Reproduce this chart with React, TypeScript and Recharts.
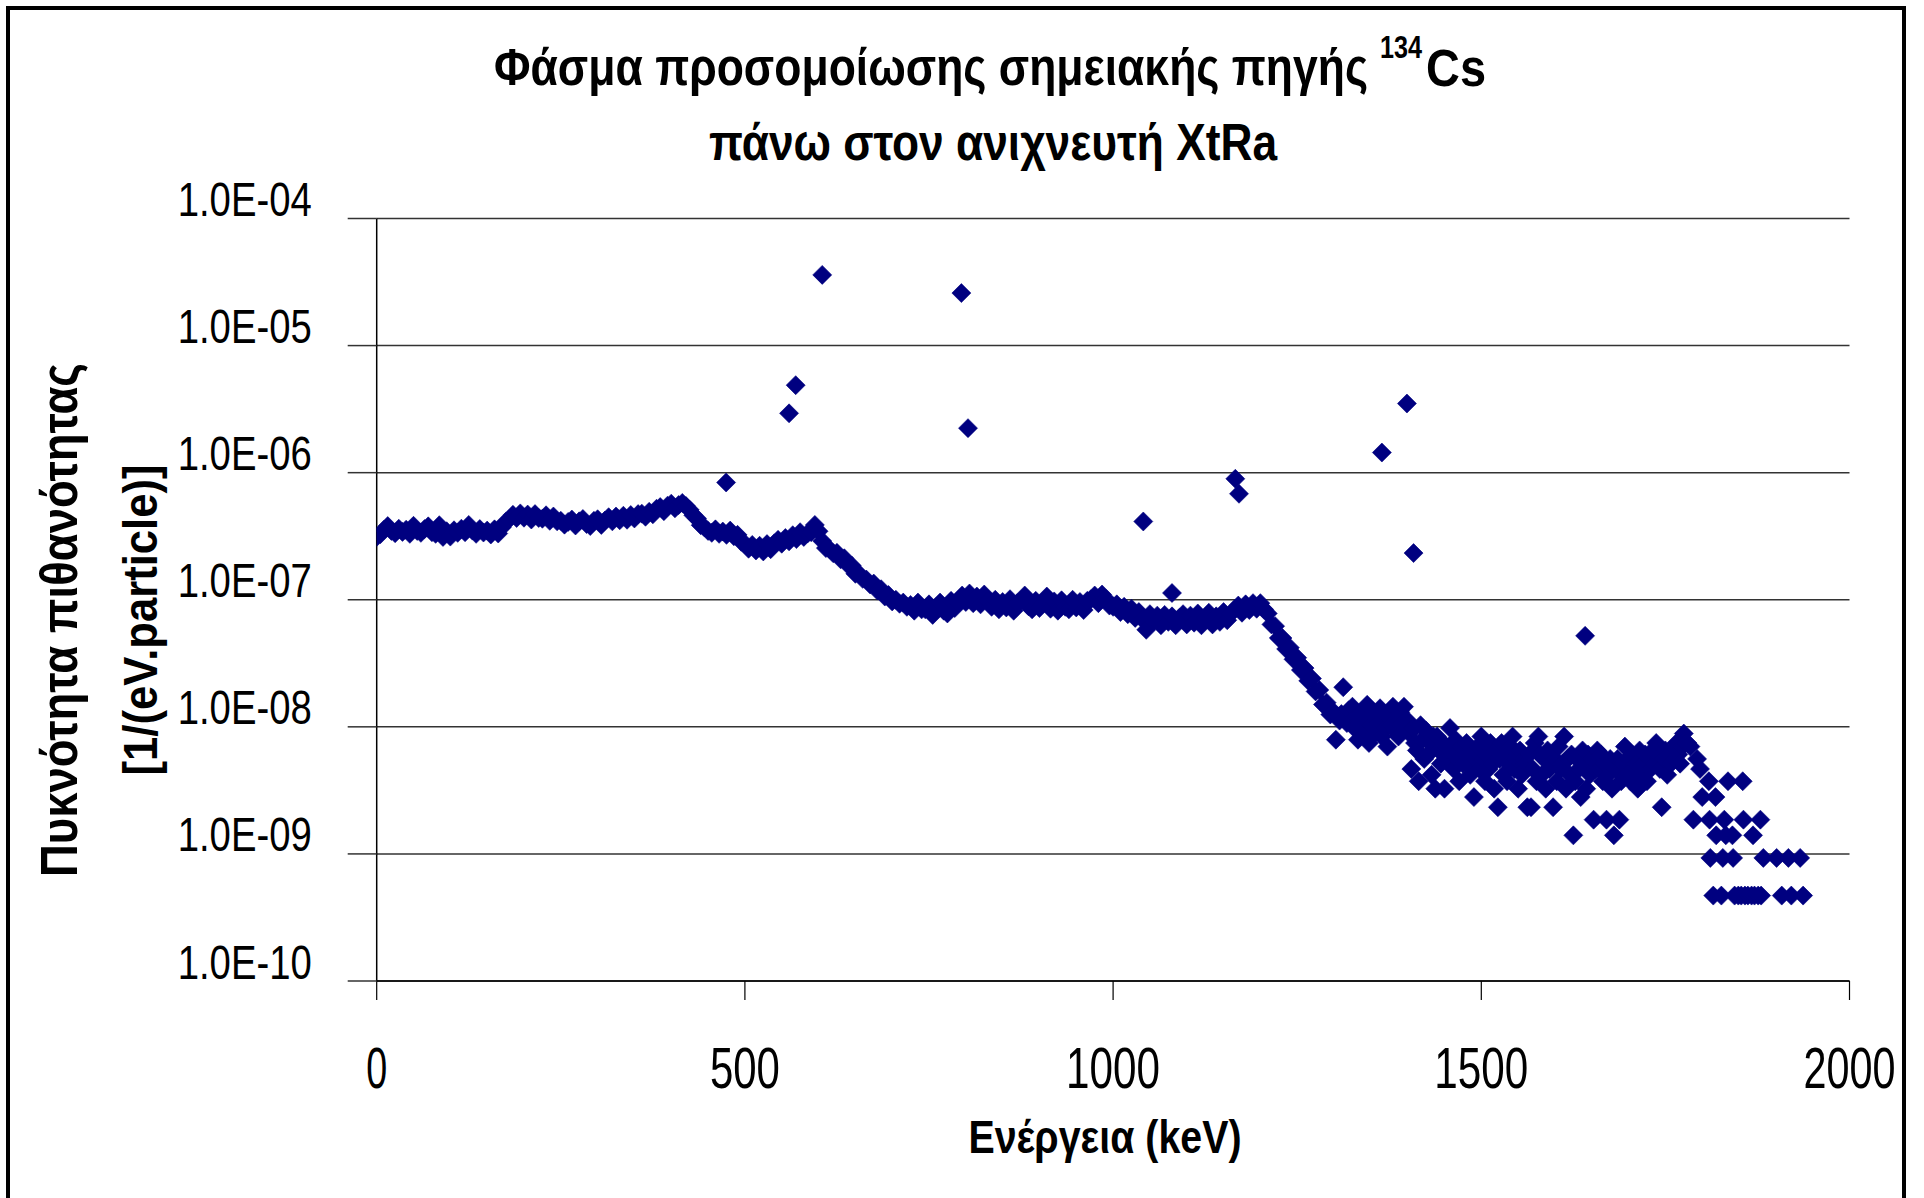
import React from 'react';
import { ScatterChart, Scatter, XAxis, YAxis, CartesianGrid } from 'recharts';

// ---- Axes -------------------------------------------------------------
const energyTicks = [0, 500, 1000, 1500, 2000];
const energyTickWidths = [21, 70, 94, 94, 92];
const densityTicks = [1e-10, 1e-9, 1e-8, 1e-7, 1e-6, 1e-5, 1e-4];
const densityTickLabels = ['1.0E-10', '1.0E-09', '1.0E-08', '1.0E-07', '1.0E-06', '1.0E-05', '1.0E-04'];

// ---- Spectrum ---------------------------------------------------------
// All densities are given in units of 1e-9 / (eV·particle).
const UNIT = 1e-9;

// Continuum, 5 keV channels
const CONT_STEP = 5;
const cont0to245 = [
  312, 328, 356, 380, 348, 334, 362, 342, 356, 330,
  382, 348, 336, 360, 378, 340, 330, 386, 312, 346,
  314, 352, 336, 362, 340, 388, 350, 330, 360, 338,
  350, 326, 358, 332, 372, 410, 430, 466, 440, 478,
  442, 468, 428, 472, 440, 434, 462, 418, 452, 414,
];
const cont250to495 = [
  418, 390, 410, 428, 384, 414, 432, 394, 380, 418,
  430, 388, 420, 446, 414, 452, 422, 458, 426, 464,
  436, 472, 476, 450, 492, 470, 520, 536, 498, 550,
  570, 524, 556, 578, 546, 510, 462, 436, 386, 372,
  348, 336, 358, 330, 344, 324, 350, 316, 324, 286,
];
const cont500to745 = [
  276, 252, 270, 244, 266, 240, 274, 250, 278, 296,
  276, 306, 288, 322, 300, 340, 312, 332, 340, 388,
  346, 290, 255, 250, 232, 234, 208, 212, 188, 186,
  160, 160, 146, 144, 132, 134, 118, 121, 106, 109,
  97, 100, 93, 95, 88, 91, 82, 95, 84, 84,
];
const cont750to995 = [
  92, 76, 88, 95, 82, 78, 98, 86, 94, 108,
  96, 112, 94, 106, 92, 110, 98, 88, 100, 84,
  96, 87, 101, 82, 94, 99, 108, 89, 84, 98,
  86, 94, 106, 85, 97, 82, 99, 88, 84, 100,
  87, 96, 83, 98, 101, 108, 94, 110, 102, 90,
];
const cont1000to1245 = [
  88, 92, 80, 88, 77, 85, 72, 80, 70, 58,
  77, 68, 75, 63, 76, 67, 74, 63, 72, 77,
  64, 75, 66, 78, 63, 72, 79, 64, 74, 67,
  80, 69, 78, 84, 90, 79, 92, 83, 94, 85,
  94, 84, 78, 64, 62, 50, 50, 41, 42, 34,
];
const cont1250to1295 = [35, 28, 29, 23, 24, 19, 19.5, 15, 15.5, 12.5];

// High-energy tail, 2.5 keV channels (1300 – 1780 keV)
const TAIL_START = 1300;
const TAIL_STEP = 2.5;
const tail1300to1780 = [
  13.0, 7.92, 12.1, 11.2, 12.6, 20.5, 11.7, 10.7,
  13.5, 11.2, 14.4, 9.79, 12.1, 7.92, 10.7, 13.0,
  11.7, 9.32, 14.9, 7.46, 10.3, 12.6, 8.85, 11.2,
  10.7, 14.0, 8.39, 12.1, 9.79, 6.99, 11.7, 10.3,
  14.4, 9.32, 11.2, 8.39, 13.0, 10.7, 14.4, 9.79,
  11.2, 8.85, 4.66, 9.79, 7.46, 6.52, 3.73, 10.3,
  7.92, 5.59, 9.32, 6.06, 7.46, 4.19, 8.39, 3.26,
  8.39, 6.52, 5.13, 7.46, 3.26, 6.99, 5.59, 9.79,
  6.52, 4.66, 7.92, 5.59, 3.73, 6.99, 5.13, 6.06,
  7.46, 5.13, 4.19, 6.52, 2.80, 5.59, 6.99, 4.66,
  8.39, 5.59, 3.73, 6.06, 4.66, 7.46, 5.13, 3.26,
  6.52, 2.33, 5.59, 7.46, 4.19, 6.06, 3.73, 5.13,
  6.99, 8.39, 4.66, 5.59, 3.26, 6.52, 4.19, 5.59,
  5.13, 2.33, 6.06, 2.33, 4.66, 7.46, 3.73, 8.39,
  6.06, 4.19, 5.59, 3.26, 6.52, 4.66, 5.13, 2.33,
  5.59, 3.73, 6.99, 4.66, 5.13, 8.39, 3.26, 5.59,
  4.19, 6.06, 1.40, 3.73, 5.59, 4.66, 2.80, 6.52,
  5.13, 3.26, 6.06, 4.19, 5.59, 1.86, 4.66, 6.52,
  4.66, 6.06, 3.73, 5.13, 1.86, 4.19, 5.59, 3.26,
  1.40, 4.66, 5.59, 1.86, 3.73, 5.13, 6.99, 4.19,
  5.59, 3.73, 6.06, 4.66, 5.13, 3.26, 6.52, 4.19,
  5.13, 6.06, 3.73, 5.59, 4.66, 6.52, 5.13, 7.46,
  6.06, 4.66, 2.33, 5.59, 6.52, 4.19, 6.06, 5.13,
  6.52, 5.59, 7.46, 6.06, 5.13, 6.99, 8.85, 7.46,
  7.46,
];

// Sparse end of the spectrum (few counts per channel)
const sparseEnergies = [
  1784, 1788, 1793, 1797, 1800, 1809, 1810, 1811, 1815, 1818,
  1819, 1826, 1828, 1830, 1832, 1835, 1841, 1842, 1844, 1849,
  1853, 1855, 1856, 1858, 1862, 1867, 1869, 1871, 1876, 1879,
  1880, 1883, 1901, 1908, 1917, 1921, 1933, 1937,
];
const sparseValues = [
  6.99, 1.86, 5.59, 4.66, 2.80, 3.73, 1.86, 0.93, 0.47, 2.80,
  1.40, 0.47, 0.93, 1.86, 1.40, 3.73, 1.40, 0.93, 0.47, 0.47,
  0.47, 3.73, 1.86, 0.47, 0.47, 0.47, 1.40, 0.47, 0.47, 1.86,
  0.47, 0.93, 0.93, 0.47, 0.93, 0.47, 0.93, 0.47,
];

// Full-energy and sum peaks of 134Cs
const lineEnergies = [474.5, 560, 569, 605, 794, 803, 1041, 1080, 1166, 1171, 1365, 1399, 1408, 1641];
const lineValues = [837, 2930, 4880, 36000, 25900, 2240, 413, 113, 895, 682, 1440, 3500, 233, 52];

type Pt = { e: number; p: number };

const channels = (start: number, step: number, values: number[]): Pt[] =>
  values.map((v, i) => ({ e: start + i * step, p: v * UNIT }));

const spectrum: Pt[] = [
  ...channels(0, CONT_STEP, cont0to245),
  ...channels(250, CONT_STEP, cont250to495),
  ...channels(500, CONT_STEP, cont500to745),
  ...channels(750, CONT_STEP, cont750to995),
  ...channels(1000, CONT_STEP, cont1000to1245),
  ...channels(1250, CONT_STEP, cont1250to1295),
  ...channels(TAIL_START, TAIL_STEP, tail1300to1780),
  ...sparseEnergies.map((e, i) => ({ e, p: sparseValues[i] * UNIT })),
  ...lineEnergies.map((e, i) => ({ e, p: lineValues[i] * UNIT })),
].sort((a, b) => a.e - b.e);

// ---- Rendering helpers -----------------------------------------------
const FONT = "'Liberation Sans', Arial, sans-serif";
const MARKER = '#000080';
const HALF = 9.5;

const renderDiamond = (props: any) => {
  const { cx, cy } = props;
  if (cx == null || cy == null || !isFinite(cx) || !isFinite(cy)) return <g />;
  const pts = `${cx},${cy - HALF} ${cx + HALF},${cy} ${cx},${cy + HALF} ${cx - HALF},${cy}`;
  return <polygon points={pts} fill={MARKER} stroke={MARKER} strokeWidth={0.6} />;
};

// Narrow (condensed) text: the font is set smaller by `squeeze` and stretched
// back vertically, so glyphs keep their height while taking less width.
type NarrowProps = {
  x: number;
  y: number;
  size: number;
  squeeze: number;
  width: number;
  anchor?: 'start' | 'middle' | 'end';
  rotate?: number;
  bold?: boolean;
  children: React.ReactNode;
};
const NarrowText = ({ x, y, size, squeeze, width, anchor = 'start', rotate = 0, bold = false, children }: NarrowProps) => (
  <text
    transform={`translate(${x},${y})${rotate ? ` rotate(${rotate})` : ''} scale(1,${(1 / squeeze).toFixed(4)})`}
    fontFamily={FONT}
    fontWeight={bold ? 'bold' : 'normal'}
    fontSize={size * squeeze}
    textAnchor={anchor}
    textLength={width}
    lengthAdjust="spacingAndGlyphs"
    fill="#000"
  >
    {children}
  </text>
);

const densityLabel = (v: number) => {
  const i = densityTicks.findIndex((t) => Math.abs(Math.log10(t) - Math.log10(v)) < 1e-6);
  return i >= 0 ? densityTickLabels[i] : String(v);
};

const YTick = (props: any) => {
  const { x, y, payload } = props;
  return (
    <NarrowText x={x} y={y - 2.5} size={49} squeeze={0.78} width={134} anchor="end">
      {densityLabel(payload.value)}
    </NarrowText>
  );
};

const XTick = (props: any) => {
  const { x, y, payload } = props;
  const i = energyTicks.indexOf(payload.value);
  return (
    <NarrowText x={x} y={y + 88} size={57} squeeze={0.72} width={energyTickWidths[i >= 0 ? i : 0]} anchor="middle">
      {payload.value}
    </NarrowText>
  );
};

export default function App() {
  return (
    <div style={{ position: 'absolute', left: 0, top: 0, width: 1924, height: 1198, background: '#fff' }}>
      <ScatterChart
        width={1924}
        height={1198}
        margin={{ top: 218.5, right: 74.5, bottom: 97, left: 296.7 }}
      >
        <CartesianGrid vertical={false} stroke="#333" strokeWidth={1.5} />
        <XAxis
          type="number"
          dataKey="e"
          domain={[0, 2000]}
          ticks={energyTicks}
          interval={0}
          height={120}
          tickSize={19}
          tickMargin={0}
          tick={XTick}
          axisLine={{ stroke: '#000', strokeWidth: 1.5 }}
          tickLine={{ stroke: '#000', strokeWidth: 1.2 }}
          allowDataOverflow
        />
        <YAxis
          type="number"
          dataKey="p"
          scale="log"
          domain={[1e-10, 1e-4]}
          ticks={densityTicks}
          interval={0}
          width={80}
          tickSize={29}
          tickMargin={36}
          tick={YTick}
          axisLine={{ stroke: '#000', strokeWidth: 1.5 }}
          tickLine={{ stroke: '#333', strokeWidth: 1.5 }}
          allowDataOverflow
        />
        <Scatter data={spectrum} fill={MARKER} shape={renderDiamond} isAnimationActive={false} />
      </ScatterChart>

      <svg
        width={1924}
        height={1198}
        style={{ position: 'absolute', left: 0, top: 0, pointerEvents: 'none' }}
      >
        <rect x={8} y={8} width={1896} height={1400} fill="none" stroke="#000" strokeWidth={4} />

        {/* Title */}
        <NarrowText x={494} y={85} size={52} squeeze={0.86} width={874} bold>
          Φάσμα προσομοίωσης σημειακής πηγής
        </NarrowText>
        <NarrowText x={1380} y={58} size={32} squeeze={0.76} width={42} bold>
          134
        </NarrowText>
        <NarrowText x={1426} y={86} size={52} squeeze={0.88} width={60} bold>
          Cs
        </NarrowText>
        <NarrowText x={709} y={160} size={52} squeeze={0.82} width={568} bold>
          πάνω στον ανιχνευτή XtRa
        </NarrowText>

        {/* Axis titles */}
        <NarrowText x={1105} y={1153} size={46} squeeze={0.83} width={273} anchor="middle" bold>
          Ενέργεια (keV)
        </NarrowText>
        <NarrowText x={77} y={620} size={52} squeeze={0.83} width={514} anchor="middle" rotate={-90} bold>
          Πυκνότητα πιθανότητας
        </NarrowText>
        <NarrowText x={157} y={620} size={49} squeeze={0.86} width={311} anchor="middle" rotate={-90} bold>
          [1/(eV.particle)]
        </NarrowText>
      </svg>
    </div>
  );
}
